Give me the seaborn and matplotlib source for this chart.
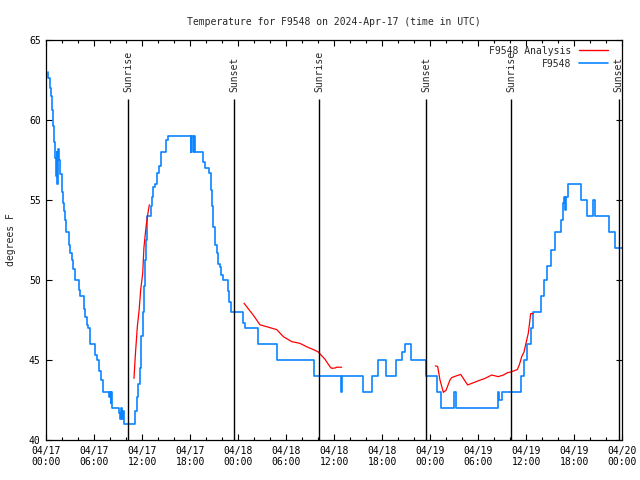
import numpy as np
import pandas as pd
import matplotlib

matplotlib.use("Agg")
import matplotlib.pyplot as plt
from matplotlib.lines import Line2D
import seaborn as sns

# hours since 2024-04-17 00:00 UTC, value (deg F) starting at that hour
obs_hours = [0.15, 0.25, 0.45, 0.6, 0.72, 0.85, 0.97, 1.1, 1.2, 1.28, 1.38, 1.5, 1.58, 1.75,
             1.95, 2.1, 2.25, 2.38, 2.5, 2.8, 3.0, 3.15, 3.35, 3.55, 4.05, 4.21, 4.71, 4.88,
             5.05, 5.21, 5.46, 6.1, 6.38, 6.6, 6.88, 7.05, 7.84, 7.96, 8.05, 8.13, 8.25, 9.05,
             9.21, 9.3, 9.45, 9.55, 9.71, 11.09, 11.3, 11.5, 11.7, 11.88, 12.05, 12.21, 12.38,
             12.46, 12.63, 13.13, 13.25, 13.38, 13.63, 13.88, 14.13, 14.38, 15.0, 15.25, 18.05,
             18.1, 18.3, 18.4, 18.55, 19.63, 19.8, 20.38, 20.55, 20.71, 20.88, 21.05, 21.13,
             21.3, 21.46, 21.71, 21.88, 22.05, 22.71, 22.88, 23.05, 24.63, 24.8, 26.46, 28.88,
             33.46, 36.8, 36.9, 39.6, 40.7, 41.4, 42.45, 43.7, 44.5, 44.8, 45.6, 47.5, 48.8,
             49.35, 51.0, 51.2, 56.45, 56.6, 56.9, 59.34, 59.71, 60.13, 60.55, 60.88, 61.88,
             62.21, 62.63, 63.05, 63.63, 64.3, 64.55, 64.7, 64.8, 64.93, 65.18, 66.88, 67.63,
             68.38, 68.63, 70.38, 71.13, 72.0]
obs_temps = [63.0, 62.6, 62.0, 61.5, 60.6, 59.6, 58.6, 57.6, 56.5, 58.0, 56.0, 58.2, 57.5, 56.6,
             55.5, 54.8, 54.3, 53.75, 53.0, 52.2, 51.7, 51.25, 50.7, 50.0, 49.4, 49.0, 48.2, 47.7,
             47.2, 47.0, 46.0, 45.3, 45.0, 44.3, 43.75, 43.0, 42.7, 43.0, 42.3, 43.0, 42.0, 41.7,
             41.3, 42.0, 41.3, 41.8, 41.0, 41.8, 42.7, 43.5, 44.5, 46.5, 48.0, 49.6, 51.25,
             52.5, 54.0, 54.6, 55.2, 55.8, 56.0, 56.7, 57.1, 58.0, 58.75, 59.0, 58.0,
             59.0, 58.0, 59.0, 58.0, 57.4, 57.0, 56.7, 55.6, 54.6, 53.3, 52.7, 52.2,
             51.7, 51.0, 50.8, 50.3, 50.0, 49.3, 48.6, 48.0, 47.3, 47.0, 46.0, 45.0,
             44.0, 43.0, 44.0, 43.0, 44.0, 45.0, 44.0, 45.0, 45.5, 46.0, 45.0, 44.0, 43.0,
             42.0, 43.0, 42.0, 43.0, 42.5, 43.0, 44.0, 45.0, 46.0, 47.0, 48.0, 49.0,
             50.0, 50.9, 51.9, 53.0, 53.75, 54.8, 55.2, 54.4, 55.2, 56.0, 55.0, 54.0,
             55.0, 54.0, 53.0, 52.0, 52.0]

# analysis series, three separate runs
ana_seg = [1] * 10 + [2] * 17 + [3] * 28
ana_hours = [10.96, 11.13, 11.38, 11.6, 11.8, 12.05, 12.2, 12.46, 12.71, 12.88,
             24.71, 25.88, 26.71, 27.55, 28.8, 29.63, 30.67, 31.71, 32.55, 33.6, 34.0,
             34.84, 35.46, 35.67, 36.09, 36.3, 36.92,
             48.63, 48.92, 49.21, 49.63, 49.96, 50.46, 50.67, 51.21, 51.8, 52.13, 52.67,
             53.17, 54.0, 54.84, 55.67, 56.5, 57.13, 57.63, 58.17, 58.88, 59.13, 59.42,
             59.71, 60.05, 60.25, 60.38, 60.55, 60.88]
ana_temps = [43.85, 45.3, 47.1, 48.1, 49.4, 50.4, 52.0, 53.3, 54.2, 54.7,
             48.55, 47.8, 47.2, 47.08, 46.9, 46.46, 46.15, 46.04, 45.83, 45.6, 45.5,
             45.04, 44.58, 44.48, 44.5, 44.55, 44.55,
             44.63, 44.6, 43.75, 42.98, 43.1, 43.75, 43.9, 44.0, 44.1, 43.85, 43.44,
             43.54, 43.7, 43.85, 44.06, 43.96, 44.06, 44.2, 44.27, 44.4, 44.7, 45.2,
             45.5, 46.25, 46.67, 47.2, 47.9, 47.9]

sun_hours = [10.25, 23.5, 34.12, 47.5, 58.12, 71.55]
sun_labels = ["Sunrise", "Sunset", "Sunrise", "Sunset", "Sunrise", "Sunset"]

tick_hours = list(range(0, 73, 6))
tick_labels = ["04/17\n00:00", "04/17\n06:00", "04/17\n12:00", "04/17\n18:00",
               "04/18\n00:00", "04/18\n06:00", "04/18\n12:00", "04/18\n18:00",
               "04/19\n00:00", "04/19\n06:00", "04/19\n12:00", "04/19\n18:00",
               "04/20\n00:00"]

obs = pd.DataFrame({"hour": obs_hours, "temp": obs_temps})
ana = pd.DataFrame({"hour": ana_hours, "temp": ana_temps, "seg": ana_seg})

sns.set_style("ticks")
plt.rcParams["font.family"] = ["DejaVu Sans Mono"]
plt.rcParams["font.size"] = 7

blue = "#0A84FF"
red = "#FF0000"

fig = plt.figure(figsize=(6.4, 4.8), dpi=100)
ax = fig.add_axes([46.3 / 640, 40 / 480, 576 / 640, 400 / 480])

sns.lineplot(data=obs, x="hour", y="temp", ax=ax, color=blue, linewidth=1.2,
             drawstyle="steps-post", estimator=None, sort=False)
sns.lineplot(data=ana, x="hour", y="temp", units="seg", ax=ax, color=red,
             linewidth=0.9, estimator=None, sort=False)

for h, lab in zip(sun_hours, sun_labels):
    ax.vlines(h, 40, 61.3, color="black", linewidth=1)
    ax.text(h, 61.75, lab, rotation=90, ha="center", va="bottom", fontsize=7)

ax.set_xlim(0, 72)
ax.set_ylim(40, 65)
ax.set_xticks(tick_hours)
ax.set_xticklabels(tick_labels)
ax.set_xticks(np.arange(0, 73, 2), minor=True)
ax.set_yticks([40, 45, 50, 55, 60, 65])
ax.tick_params(which="both", direction="in", top=True, right=True, width=0.8,
               labelsize=7, colors="black")
ax.tick_params(which="major", length=4, pad=4)
ax.tick_params(which="minor", length=2)
for s in ax.spines.values():
    s.set_linewidth(0.9)
    s.set_color("black")

ax.set_xlabel("")
ax.set_ylabel("degrees F", fontsize=7, labelpad=9)
ax.set_title("Temperature for F9548 on 2024-Apr-17 (time in UTC)", fontsize=7, pad=11)

handles = [Line2D([], [], color=red, linewidth=1), Line2D([], [], color=blue, linewidth=1.2)]
ax.legend(handles, ["F9548 Analysis", "F9548"], loc="upper right", frameon=False,
          markerfirst=False, fontsize=7, handlelength=3, labelspacing=0.3,
          borderaxespad=0.2, bbox_to_anchor=(0.985, 1.0))

fig.savefig("out.png", dpi=100)
plt.close(fig)
